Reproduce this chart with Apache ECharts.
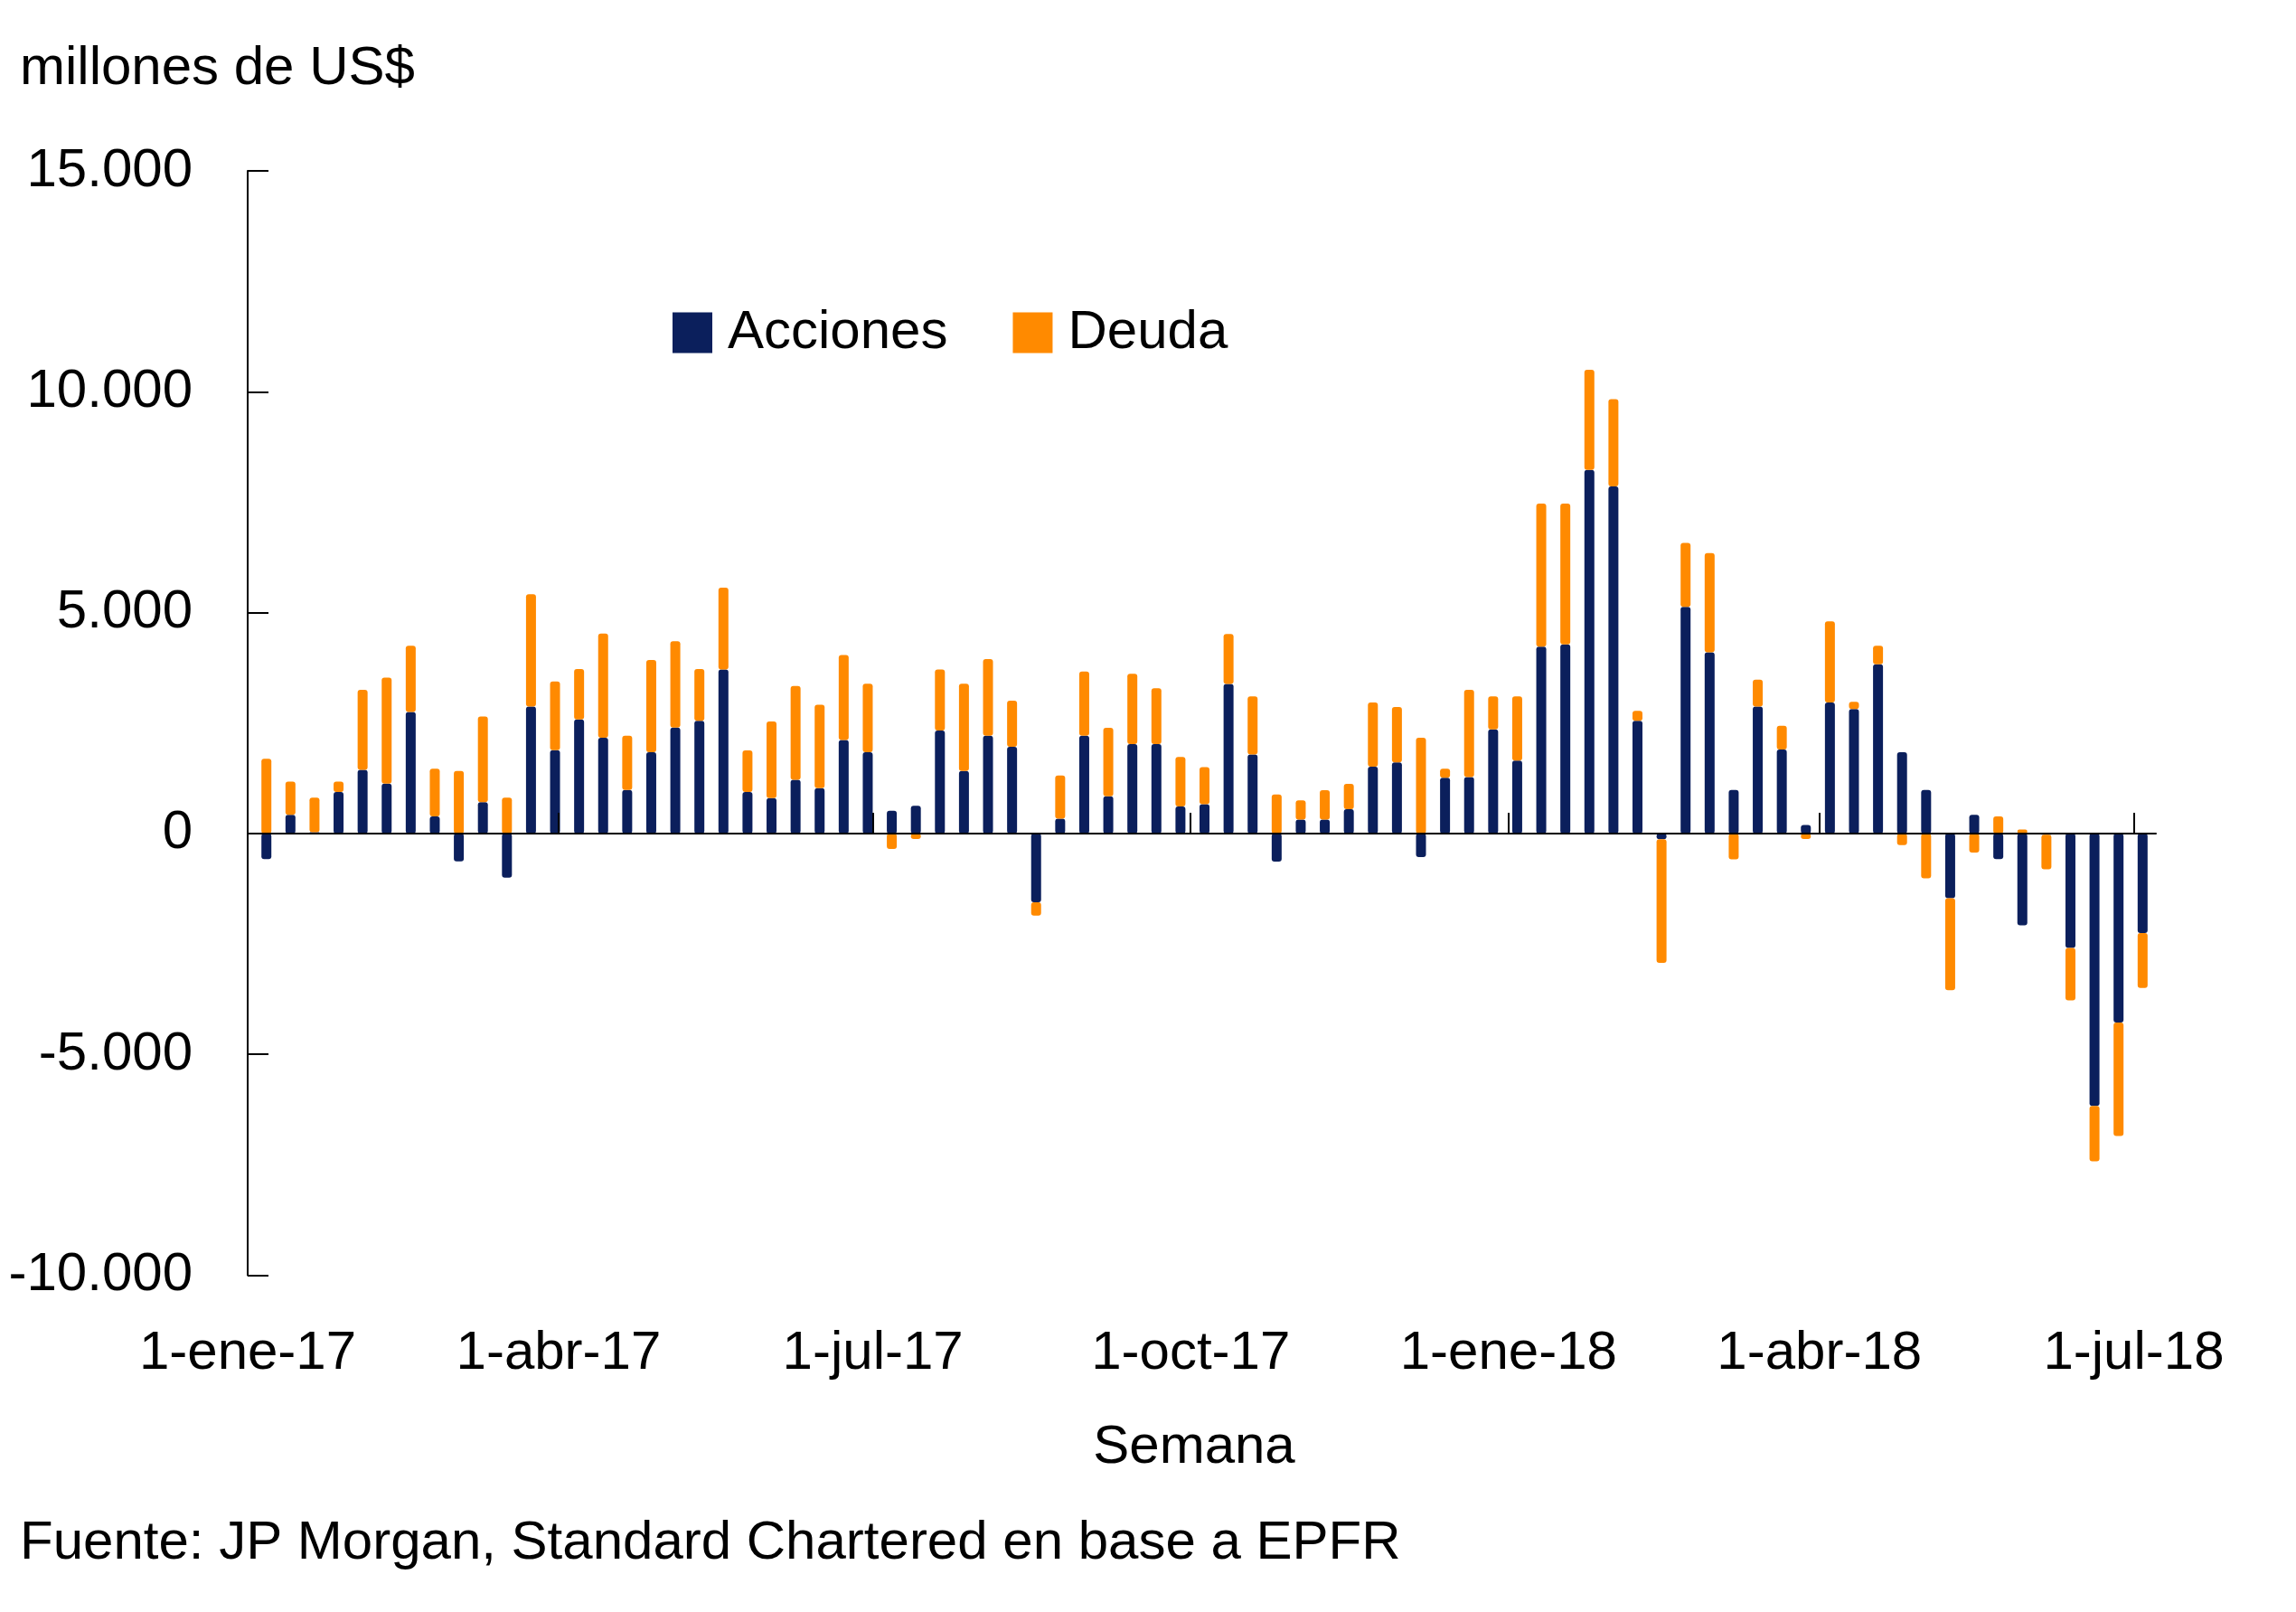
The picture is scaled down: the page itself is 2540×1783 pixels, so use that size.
<!DOCTYPE html>
<html>
<head>
<meta charset="utf-8">
<script src="https://cdn.jsdelivr.net/npm/echarts@6/dist/echarts.min.js"></script>
<style>
html,body{margin:0;padding:0;background:#ffffff;}
#chart{width:2540px;height:1783px;}
</style>
</head>
<body>
<div id="chart"></div>
<script>
// Weekly observation dates (categories)
const weeks = [
  '2017-01-05','2017-01-12','2017-01-19','2017-01-26',
  '2017-02-02','2017-02-09','2017-02-16','2017-02-23',
  '2017-03-02','2017-03-09','2017-03-16','2017-03-23','2017-03-30',
  '2017-04-06','2017-04-13','2017-04-20','2017-04-27',
  '2017-05-04','2017-05-11','2017-05-18','2017-05-25',
  '2017-06-01','2017-06-08','2017-06-15','2017-06-22','2017-06-29',
  '2017-07-06','2017-07-13','2017-07-20','2017-07-27',
  '2017-08-03','2017-08-10','2017-08-17','2017-08-24','2017-08-31',
  '2017-09-07','2017-09-14','2017-09-21','2017-09-28',
  '2017-10-05','2017-10-12','2017-10-19','2017-10-26',
  '2017-11-02','2017-11-09','2017-11-16','2017-11-23','2017-11-30',
  '2017-12-07','2017-12-14','2017-12-21','2017-12-28',
  '2018-01-04','2018-01-11','2018-01-18','2018-01-25',
  '2018-02-01','2018-02-08','2018-02-15','2018-02-22',
  '2018-03-01','2018-03-08','2018-03-15','2018-03-22','2018-03-29',
  '2018-04-05','2018-04-12','2018-04-19','2018-04-26',
  '2018-05-03','2018-05-10','2018-05-17','2018-05-24','2018-05-31',
  '2018-06-07','2018-06-14','2018-06-21','2018-06-28',
  '2018-07-05'
];

// Flows, millions of US$
const acciones = [
  -580, 425, 30, 940, 1440, 1130, 2750, 385, -630, 710,
  -1000, 2875, 1885, 2580, 2165, 985, 1840, 2400, 2550, 3715,
  940, 800, 1215, 1025, 2115, 1840, 515, 625, 2330, 1415,
  2215, 1965, -1560, 335, 2215, 840, 2025, 2025, 610, 665,
  3385, 1790, -635, 315, 315, 550, 1510, 1610, -535, 1260,
  1275, 2355, 1650, 4230, 4280, 8230, 7855, 2550, -130, 5130,
  4100, 985, 2875, 1900, 190, 2965, 2815, 3830, 1840, 985,
  -1465, 425, -580, -2080, -30, -2590, -6170, -4280, -2255
];

const deuda = [
  1690, 750, 780, 235, 1810, 2400, 1500, 1080, 1415, 1940,
  810, 2540, 1555, 1145, 2360, 1230, 2085, 1950, 1175, 1850,
  940, 1735, 2125, 1890, 1925, 1550, -350, -125, 1385, 1975,
  1735, 1040, -300, 980, 1450, 1550, 1590, 1265, 1125, 835,
  1130, 1315, 885, 435, 665, 575, 1455, 1255, 2165, 205,
  1975, 750, 1455, 3240, 3190, 2265, 1975, 225, -2800, 1450,
  2250, -585, 605, 540, -125, 1840, 165, 420, -265, -1015,
  -2085, -430, 385, 90, -780, -1190, -1250, -2570, -1240
];

// Axis tick positions and labels
const xTickDates = ['2017-01-01','2017-04-01','2017-07-01','2017-10-01','2018-01-01','2018-04-01','2018-07-01'];
const xTickLabels = ['1-ene-17','1-abr-17','1-jul-17','1-oct-17','1-ene-18','1-abr-18','1-jul-18'];
const xAxisStart = '2017-01-01 00:00';
const xAxisEnd = '2018-07-07 10:00';
const yMin = -10000, yMax = 15000, yStep = 5000;

const seriesNames = ['Acciones', 'Deuda'];
const FONT = '"Liberation Sans", Arial, sans-serif';

function ts(s) {
  const parts = s.split(' ');
  const d = parts[0].split('-').map(Number);
  let h = 0, mi = 0;
  if (parts[1]) { const t = parts[1].split(':').map(Number); h = t[0]; mi = t[1]; }
  return new Date(d[0], d[1] - 1, d[2], h, mi).getTime();
}
function fmtNum(v) {
  const s = Math.abs(v).toString().replace(/\B(?=(\d{3})+(?!\d))/g, '.');
  return (v < 0 ? '-' : '') + s;
}

const tickTs = xTickDates.map(ts);
function dateLabel(v) {
  let best = 0, bestD = Infinity;
  tickTs.forEach((t, i) => { const d = Math.abs(t - v); if (d < bestD) { bestD = d; best = i; } });
  return bestD < 86400000 ? xTickLabels[best] : '';
}

const chart = echarts.init(document.getElementById('chart'), null, { renderer: 'canvas' });

const xMin = ts(xAxisStart), xMax = ts(xAxisEnd);

const option = {
  animation: false,
  backgroundColor: '#ffffff',
  textStyle: { fontFamily: FONT, color: '#000000' },
  grid: { left: 274, right: 155, top: 189, bottom: 372.5, containLabel: false },
  legend: {
    data: seriesNames,
    left: 739,
    top: 333,
    orient: 'horizontal',
    icon: 'rect',
    itemWidth: 44,
    itemHeight: 45,
    itemGap: 72,
    selectedMode: false,
    textStyle: { fontSize: 60, color: '#000000', fontFamily: FONT, padding: [0, 0, 0, 12] }
  },
  xAxis: [
    {
      // time axis that carries the bars (not drawn)
      type: 'time',
      position: 'top',
      min: xMin,
      max: xMax,
      show: false,
      axisLine: { show: false, onZero: false },
      axisTick: { show: false },
      axisLabel: { show: false },
      splitLine: { show: false }
    },
    {
      // quarterly date labels at the bottom
      type: 'value',
      position: 'bottom',
      min: xMin,
      max: xMax,
      scale: true,
      axisLine: { show: false, onZero: false },
      axisTick: { show: false },
      splitLine: { show: false },
      axisLabel: {
        show: true,
        customValues: tickTs,
        margin: 57,
        fontSize: 60,
        color: '#000000',
        fontFamily: FONT,
        formatter: dateLabel
      }
    },
    {
      // zero line with quarterly ticks
      type: 'value',
      position: 'bottom',
      min: xMin,
      max: xMax,
      scale: true,
      z: 10,
      axisLine: { show: true, onZero: true, lineStyle: { color: '#000000', width: 2 } },
      axisTick: { show: true, inside: true, length: 23, customValues: tickTs, lineStyle: { color: '#000000', width: 2 } },
      axisLabel: { show: false },
      splitLine: { show: false }
    }
  ],
  yAxis: {
    type: 'value',
    min: yMin,
    max: yMax,
    interval: yStep,
    axisLine: { show: true, onZero: false, lineStyle: { color: '#000000', width: 2 } },
    axisTick: { show: true, inside: true, length: 23, lineStyle: { color: '#000000', width: 2 } },
    splitLine: { show: false },
    axisLabel: {
      margin: 61,
      fontSize: 60,
      color: '#000000',
      fontFamily: FONT,
      formatter: fmtNum
    }
  },
  graphic: [
    {
      type: 'text', x: 22, y: 76,
      style: { text: 'millones de US$', fontSize: 60, fontFamily: FONT, fill: '#000000', align: 'left', verticalAlign: 'middle' }
    },
    {
      type: 'text', x: 1321, y: 1601,
      style: { text: 'Semana', fontSize: 60, fontFamily: FONT, fill: '#000000', align: 'center', verticalAlign: 'middle' }
    },
    {
      type: 'text', x: 22, y: 1707,
      style: { text: 'Fuente: JP Morgan, Standard Chartered en base a EPFR', fontSize: 60, fontFamily: FONT, fill: '#000000', align: 'left', verticalAlign: 'middle' }
    }
  ],
  series: [
    {
      name: seriesNames[0],
      type: 'bar',
      stack: 'flujos',
      xAxisIndex: 0,
      barWidth: 11,
      itemStyle: { color: '#0b1f5c', borderRadius: 3 },
      data: weeks.map((w, i) => [ts(w), acciones[i]])
    },
    {
      name: seriesNames[1],
      type: 'bar',
      stack: 'flujos',
      xAxisIndex: 0,
      barWidth: 11,
      itemStyle: { color: '#ff8a00', borderRadius: 3 },
      data: weeks.map((w, i) => [ts(w), deuda[i]])
    }
  ]
};

chart.setOption(option);
</script>
</body>
</html>
